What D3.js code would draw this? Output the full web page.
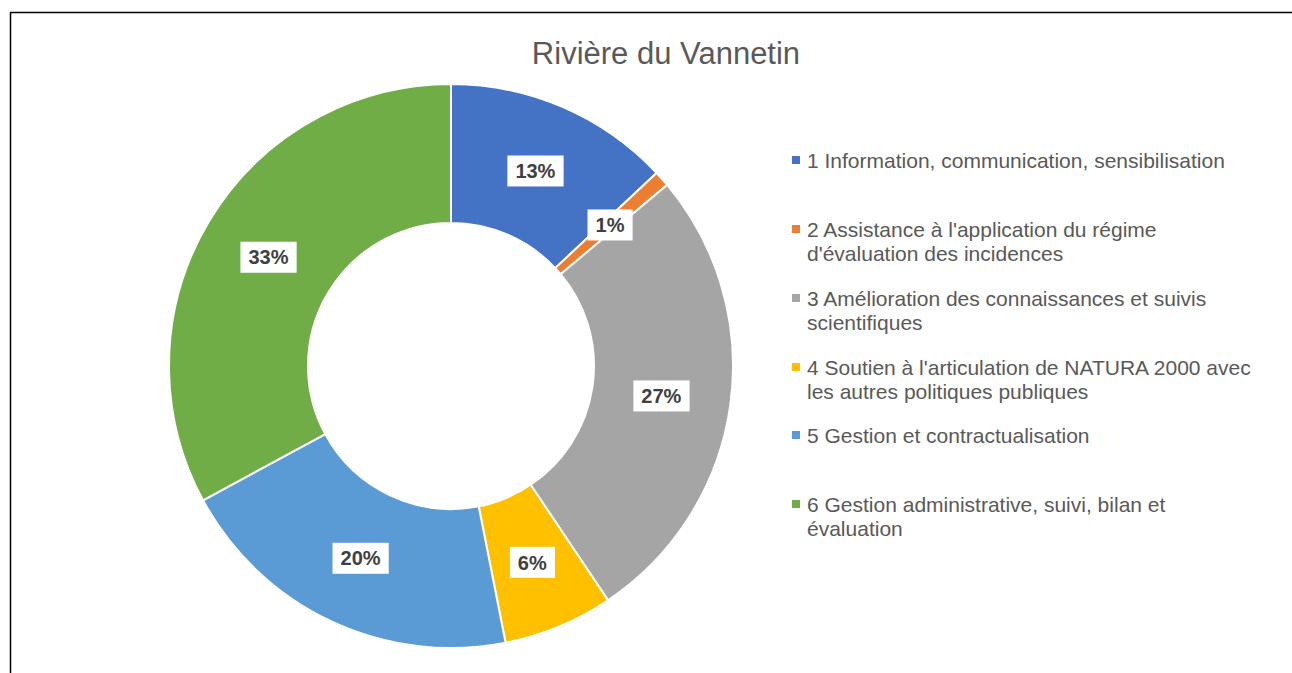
<!DOCTYPE html>
<html>
<head>
<meta charset="utf-8">
<script src="https://cdn.jsdelivr.net/npm/d3@7"></script>
<style>
  body { margin: 0; background: #fff; overflow: hidden; }
  svg { display: block; font-family: Arial, "Liberation Sans", sans-serif; }
</style>
</head>
<body>
<div id="chart"></div>
<script>
// data
const categories = ["1", "2", "3", "4", "5", "6"];
const shares = [13.0, 0.9, 26.7, 6.3, 20.2, 32.9];
const legendLines = [
    ["1 Information, communication, sensibilisation"],
    ["2 Assistance à l'application du régime", "d'évaluation des incidences"],
    ["3 Amélioration des connaissances et suivis", "scientifiques"],
    ["4 Soutien à l'articulation de NATURA 2000 avec", "les autres politiques publiques"],
    ["5 Gestion et contractualisation"],
    ["6 Gestion administrative, suivi, bilan et", "évaluation"]
];
const legendY = [160, 229, 298, 367, 435, 504];
const colors = ["#4472C4", "#ED7D31", "#A5A5A5", "#FFC000", "#5B9BD5", "#70AD47"];

const W = 1292, H = 673;
const cx = 451, cy = 366, outerR = 282, innerR = 143;

const svg = d3.select("#chart").append("svg")
    .attr("width", W)
    .attr("height", H);

// frame
svg.append("rect")
    .attr("x", 10.5).attr("y", 12.5)
    .attr("width", W).attr("height", H)
    .attr("fill", "none")
    .attr("stroke", "#000")
    .attr("stroke-width", 1.5);

// title
svg.append("text")
    .attr("x", 666).attr("y", 64)
    .attr("text-anchor", "middle")
    .attr("font-size", "31px")
    .attr("fill", "#595959")
    .text("Rivière du Vannetin");

const color = d3.scaleOrdinal().domain(categories).range(colors);

const pie = d3.pie().sort(null).value(d => d.v);
const arcs = pie(categories.map((c, i) => ({ c: c, v: shares[i] })));
const total = d3.sum(shares);

const arc = d3.arc().innerRadius(innerR).outerRadius(outerR);
const labelArc = d3.arc().innerRadius((innerR + outerR) / 2).outerRadius((innerR + outerR) / 2);

const g = svg.append("g").attr("transform", `translate(${cx},${cy})`);

g.selectAll("path.slice")
    .data(arcs)
    .enter().append("path")
    .attr("class", "slice")
    .attr("d", arc)
    .attr("fill", d => color(d.data.c))
    .attr("stroke", "#fff")
    .attr("stroke-width", 2);

// data labels with white boxes
const labels = g.selectAll("g.lbl")
    .data(arcs)
    .enter().append("g")
    .attr("class", "lbl")
    .attr("transform", d => `translate(${labelArc.centroid(d)})`);

labels.each(function (d) {
    const lg = d3.select(this);
    const txt = lg.append("text")
        .attr("text-anchor", "middle")
        .attr("dy", "0.36em")
        .attr("font-size", "20px")
        .attr("font-weight", "bold")
        .attr("fill", "#404040")
        .text(Math.round(d.data.v / total * 100) + "%");
    const bb = txt.node().getBBox();
    lg.insert("rect", "text")
        .attr("x", bb.x - 8)
        .attr("y", -15.5)
        .attr("width", bb.width + 16)
        .attr("height", 31)
        .attr("fill", "#fff");
});

// legend
const legend = svg.append("g").attr("class", "legend");
legendLines.forEach((lines, i) => {
    const row = legend.append("g").attr("transform", `translate(0, ${legendY[i]})`);
    row.append("rect")
        .attr("x", 792).attr("y", -4)
        .attr("width", 8).attr("height", 8)
        .attr("fill", color(categories[i]));
    lines.forEach((t, j) => {
        row.append("text")
            .attr("x", 807)
            .attr("y", 1 + j * 24)
            .attr("dy", "0.35em")
            .attr("font-size", "21px")
            .attr("fill", "#595959")
            .text(t);
    });
});
</script>
</body>
</html>
